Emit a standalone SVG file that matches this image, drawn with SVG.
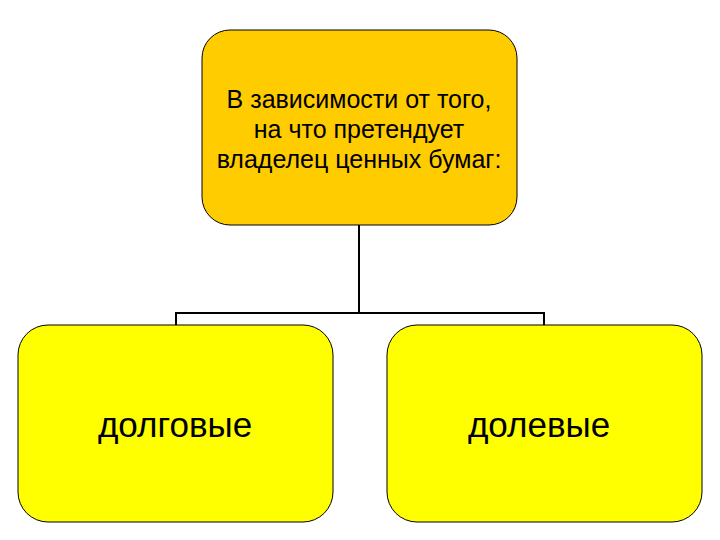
<svg xmlns="http://www.w3.org/2000/svg" width="720" height="540" viewBox="0 0 720 540">
<style>
.box{stroke:#000;stroke-width:1}
.t{font-family:"Liberation Sans",Arial,sans-serif;fill:#000;text-anchor:middle}
.c{fill:none;stroke:#000;stroke-width:2}
</style>
<rect width="720" height="540" fill="#fff"/>
<g id="connectors">
<path class="c" d="M359 225V313M176 325V313H544V325"/>
</g>
<g id="top">
<rect class="box" x="202" y="30" width="315" height="195" rx="28" fill="#FFCC00"/>
<text class="t" font-size="25"><tspan x="359" y="108">В зависимости от того,</tspan><tspan x="359" y="138">на что претендует</tspan><tspan x="359" y="168">владелец ценных бумаг:</tspan></text>
</g>
<g id="left">
<rect class="box" x="18" y="325" width="315" height="197" rx="30" fill="#FFFF00"/>
<text class="t" x="175" y="437" font-size="35">долговые</text>
</g>
<g id="right">
<rect class="box" x="387" y="325" width="315" height="197" rx="30" fill="#FFFF00"/>
<text class="t" x="539" y="437" font-size="35">долевые</text>
</g>
</svg>
